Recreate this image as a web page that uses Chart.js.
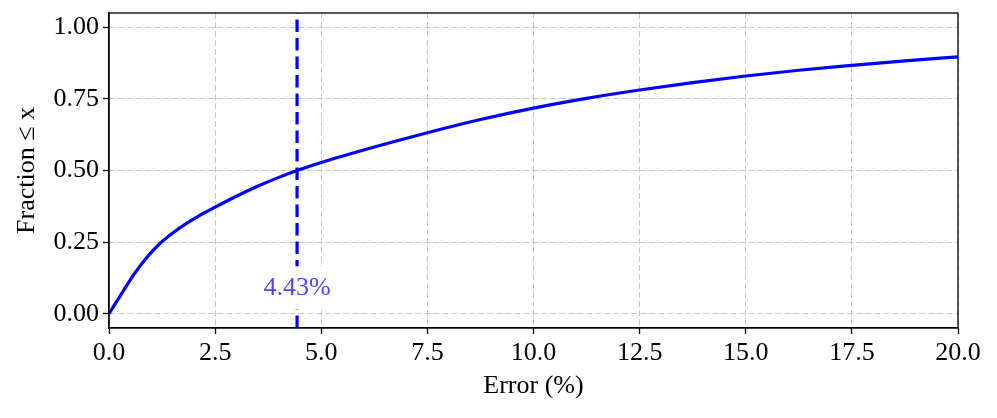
<!DOCTYPE html>
<html>
<head>
<meta charset="utf-8">
<script src="https://cdn.jsdelivr.net/npm/chart.js@4/dist/chart.umd.min.js"></script>
<style>
  html, body { margin: 0; padding: 0; background: #fff; }
  #wrap { width: 997px; height: 418px; }
</style>
</head>
<body>
<div id="wrap"><canvas id="cdfChart" width="997" height="418"></canvas></div>
<script>
// CDF of the error
const errorPct = [0, 0.3, 0.6, 0.9, 1.2, 1.5, 1.8, 2.1, 2.5, 3, 3.5, 4, 4.43, 5, 6.25, 7.5, 8.75, 10, 11.25, 12.5, 13.75, 15, 16.25, 17.5, 18.75, 20];
const fraction = [0, 0.071, 0.14, 0.198, 0.245, 0.282, 0.313, 0.34, 0.372, 0.41, 0.445, 0.476, 0.5, 0.528, 0.582, 0.632, 0.678, 0.718, 0.752, 0.781, 0.807, 0.83, 0.85, 0.867, 0.883, 0.897];

const medianError = 4.43;
const medianLabel = '4.43%';
const labelY = 0.092;

const xTicks = [0, 2.5, 5, 7.5, 10, 12.5, 15, 17.5, 20];
const yTicks = [0, 0.25, 0.5, 0.75, 1];
const xRange = [0, 20];
const yRange = [-0.05, 1.05];

const FONT = "'Liberation Serif', 'DejaVu Serif', serif";
const GRID = 'rgba(176,176,176,0.7)';

const curve = errorPct.map((x, i) => ({ x: x, y: fraction[i] }));
const medianLine = [{ x: medianError, y: yRange[0] }, { x: medianError, y: yRange[1] }];

// box round the plot + the median label with its white background
const frameAndLabel = {
    id: 'frameAndLabel',
    afterDatasetsDraw(chart) {
        const { ctx, chartArea: a, scales } = chart;
        ctx.save();
        ctx.font = '26px ' + FONT;
        const px = scales.x.getPixelForValue(medianError);
        const py = scales.y.getPixelForValue(labelY);
        const w = ctx.measureText(medianLabel).width;
        ctx.fillStyle = '#ffffff';
        ctx.fillRect(px - w / 2 - 6, py - 21, w + 12, 43);
        ctx.fillStyle = 'rgba(40,40,255,0.85)';
        ctx.textAlign = 'center';
        ctx.textBaseline = 'middle';
        ctx.fillText(medianLabel, px, py + 1);

        ctx.strokeStyle = '#000';
        ctx.lineWidth = 1.3;
        ctx.strokeRect(a.left, a.top, a.right - a.left, a.bottom - a.top);
        ctx.restore();
    }
};

const gridOpts = {
    color: GRID,
    lineWidth: 1,
    tickLength: 6,
    tickColor: '#000',
    tickWidth: 1.3,
    tickBorderDash: []
};

new Chart(document.getElementById('cdfChart'), {
    type: 'scatter',
    data: {
        datasets: [{
            data: curve,
            showLine: true,
            borderColor: '#0000ff',
            borderWidth: 3.2,
            pointRadius: 0,
            cubicInterpolationMode: 'monotone',
            order: 2
        }, {
            data: medianLine,
            showLine: true,
            borderColor: '#0000ff',
            borderWidth: 3.2,
            borderDash: [12.5, 6],
            pointRadius: 0,
            order: 1
        }]
    },
    options: {
        responsive: false,
        animation: false,
        layout: { padding: { left: 12, right: 39, top: 13, bottom: 16 } },
        plugins: { legend: { display: false }, tooltip: { enabled: false } },
        scales: {
            x: {
                type: 'linear',
                min: xRange[0],
                max: xRange[1],
                afterBuildTicks: s => { s.ticks = xTicks.map(v => ({ value: v })); },
                afterFit: s => { s.height = 74; },
                ticks: {
                    color: '#000',
                    font: { family: FONT, size: 26 },
                    padding: 4,
                    maxRotation: 0,
                    callback: v => v.toFixed(1)
                },
                grid: gridOpts,
                border: { display: true, color: '#000', width: 1.3, dash: [6, 3] },
                title: {
                    display: true,
                    text: 'Error (%)',
                    color: '#000',
                    font: { family: FONT, size: 26 },
                    padding: { top: 2, bottom: 0 }
                }
            },
            y: {
                type: 'linear',
                min: yRange[0],
                max: yRange[1],
                afterBuildTicks: s => { s.ticks = yTicks.map(v => ({ value: v })); },
                afterFit: s => { s.width = 97; s.paddingTop = 0; s.paddingBottom = 0; },
                ticks: {
                    color: '#000',
                    font: { family: FONT, size: 26 },
                    padding: 4,
                    callback: v => v.toFixed(2)
                },
                grid: gridOpts,
                border: { display: true, color: '#000', width: 1.3, dash: [6, 3] },
                title: {
                    display: true,
                    text: 'Fraction \u2264 x',
                    color: '#000',
                    font: { family: FONT, size: 26 },
                    padding: { top: 0, bottom: 2 }
                }
            }
        }
    },
    plugins: [frameAndLabel]
});
</script>
</body>
</html>
